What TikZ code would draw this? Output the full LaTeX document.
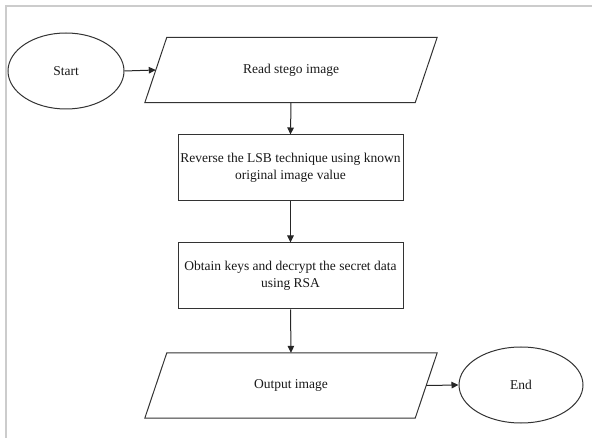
\documentclass[tikz,border=0pt]{standalone}
\usepackage{fontspec}
\setmainfont{Liberation Serif}
\usetikzlibrary{shapes.geometric,arrows.meta}
\begin{document}
\begin{tikzpicture}[x=1pt,y=-1pt,
  every node/.style={font=\fontsize{13.5}{16.5}\selectfont, text=black!90},
  shapeline/.style={draw=black!80, line width=1pt},
  term/.style={shapeline, ellipse, inner sep=0pt},
  procbox/.style={shapeline, rectangle, minimum width=225pt, minimum height=66pt, align=center, inner sep=0pt},
  iobox/.style={rectangle, minimum width=270pt, minimum height=65pt, inner sep=0pt},
  conn/.style={draw=black!85, line width=1pt, -{Triangle[length=7pt,width=6.5pt]}},
  frameline/.style={draw=black!20, line width=2pt}
]
\useasboundingbox (0,0) rectangle (592,438);
\draw[frameline] (5.5,438) -- (5.5,6) -- (592,6);

\node[term, minimum width=116pt, minimum height=76pt] (start) at (66,71) {Start};
\node[iobox] (read) at (291,70) {Read stego image};
\draw[shapeline] ([xshift=11pt]read.north west) -- ([xshift=11pt]read.north east)
  -- ([xshift=-11pt]read.south east) -- ([xshift=-11pt]read.south west) -- cycle;
\node[procbox] (rev) at (290.5,168) {Reverse the LSB technique using known\\original image value};
\node[procbox] (obt) at (290.5,276) {Obtain keys and decrypt the secret data\\using RSA};
\node[iobox] (out) at (291,385.5) {Output image};
\draw[shapeline] ([xshift=11pt]out.north west) -- ([xshift=11pt]out.north east)
  -- ([xshift=-11pt]out.south east) -- ([xshift=-11pt]out.south west) -- cycle;
\node[term, minimum width=124pt, minimum height=76pt] (end) at (521,385) {End};

\draw[conn] (start.east) -- (read.west);
\draw[conn] (read.south) -- (rev.north);
\draw[conn] (rev.south) -- (obt.north);
\draw[conn] (obt.south) -- (out.north);
\draw[conn] (out.east) -- (end.west);
\end{tikzpicture}
\end{document}
